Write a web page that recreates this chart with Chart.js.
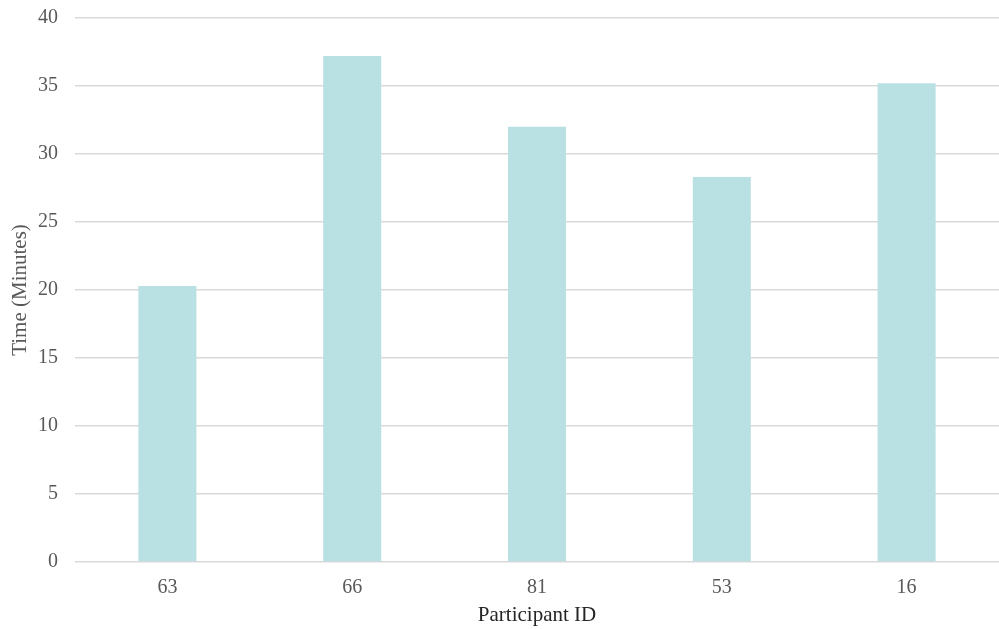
<!DOCTYPE html>
<html>
<head>
<meta charset="utf-8">
<script src="https://cdn.jsdelivr.net/npm/chart.js@4/dist/chart.umd.min.js"></script>
<style>
  html, body { margin: 0; padding: 0; background: #ffffff; }
  #wrap { width: 999px; height: 629px; }
</style>
</head>
<body>
<div id="wrap"><canvas id="c" width="999" height="629"></canvas></div>
<script>
// Session time per participant
const participants = ['63', '66', '81', '53', '16'];
const minutes = [20.3, 37.2, 32.0, 28.3, 35.2];
const yTicks = [0, 5, 10, 15, 20, 25, 30, 35, 40];

const serif = "'Liberation Serif', 'Times New Roman', serif";
const textColor = '#595959';

new Chart(document.getElementById('c'), {
  type: 'bar',
  data: {
    labels: participants,
    datasets: [{
      data: minutes,
      backgroundColor: '#b9e0e3',
      borderWidth: 0,
      categoryPercentage: 1.0,
      barPercentage: 0.314
    }]
  },
  options: {
    responsive: false,
    animation: false,
    layout: { padding: { top: 18, right: 0, bottom: 0, left: 0 } },
    plugins: { legend: { display: false }, tooltip: { enabled: false } },
    scales: {
      x: {
        grid: { display: false },
        border: { display: false },
        ticks: { color: textColor, font: { family: serif, size: 20 }, padding: 6 },
        title: { display: true, text: 'Participant ID', color: '#262626', font: { family: serif, size: 21 }, padding: { top: 4, bottom: 1 } },
        afterFit: (axis) => { axis.height = 67; axis.paddingLeft = 0; axis.paddingRight = 0; }
      },
      y: {
        min: 0,
        max: 40,
        afterBuildTicks: (axis) => { axis.ticks = yTicks.map(v => ({ value: v })); },
        grid: { color: '#d9d9d9', lineWidth: 1.5, drawTicks: false },
        border: { display: false },
        ticks: { color: textColor, font: { family: serif, size: 20 }, padding: 17 },
        title: { display: true, text: 'Time (Minutes)', color: textColor, font: { family: serif, size: 21 }, padding: { top: 8, bottom: 0 } },
        afterFit: (axis) => { axis.width = 75; axis.paddingTop = 0; axis.paddingBottom = 0; }
      }
    }
  }
});
</script>
</body>
</html>
